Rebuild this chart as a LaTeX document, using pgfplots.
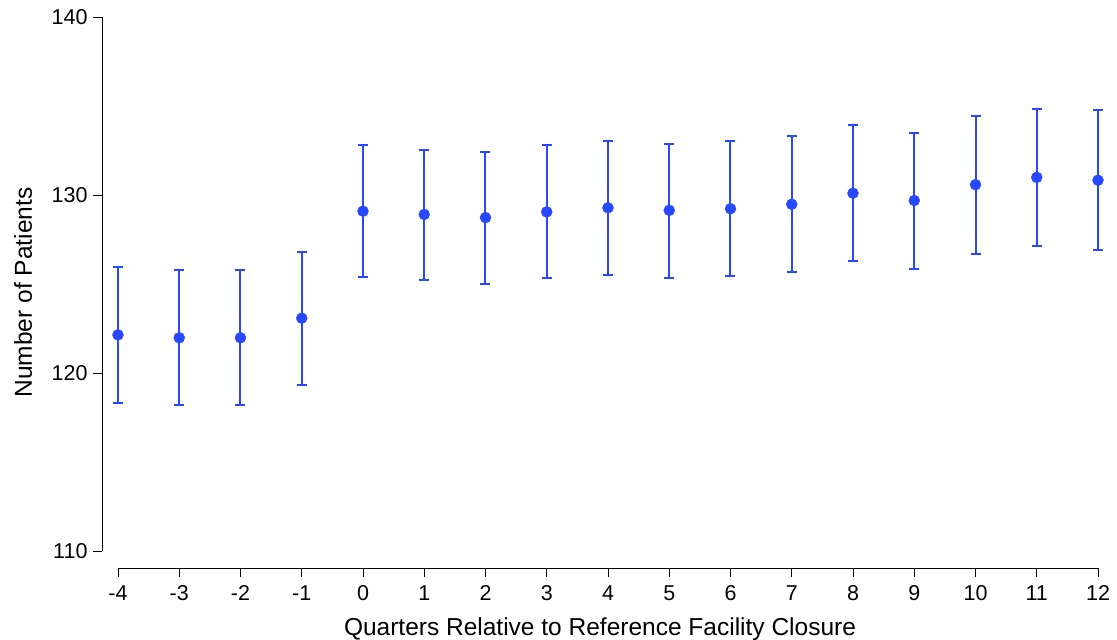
\documentclass[border=0pt]{standalone}
\usepackage{pgfplots}
\pgfplotsset{compat=1.18}
\usepackage{fontspec}
\setmainfont{Liberation Sans}
\definecolor{sblue}{RGB}{40,72,255}
\begin{document}
\begin{tikzpicture}[x=1pt,y=1pt]
\begin{axis}[
  name=ax,
  scale only axis,
  width=996pt, height=551pt,
  xmin=-4.261, xmax=12,
  ymin=109.045, ymax=140,
  axis line style={draw=none},
  xtick={-4,...,12},
  ytick={110,120,130,140},
  tick align=outside,
  major tick length=9pt,
  xtick pos=bottom, ytick pos=left,
  tick style={black, line width=0.9pt},
  /pgf/number format/assume math mode=true,
  ticklabel style={font=\fontsize{21.5}{25}\selectfont},
  yticklabel style={xshift=-2pt},
  xticklabel style={yshift=-5pt},
  xlabel={Quarters Relative to Reference Facility Closure},
  ylabel={Number of Patients},
  label style={font=\fontsize{24.5}{28}\selectfont},
  xlabel style={at={(axis description cs:0.5,0)}, anchor=center, yshift=-61pt},
  ylabel style={at={(axis description cs:0,0.5)}, anchor=center, yshift=79pt},
  clip=false,
]
\addplot[sblue, only marks, mark=*, mark size=5.5pt, mark options={fill=sblue, draw=sblue},
  error bars/.cd, y dir=both, y explicit,
  error bar style={sblue, line width=2pt},
  error mark options={sblue, mark size=5pt, line width=2pt, rotate=90}]
table[x=x, y=y, y error plus=ep, y error minus=em] {
x y ep em
-4 122.14 3.80 3.80
-3 121.98 3.80 3.80
-2 121.98 3.80 3.80
-1 123.08 3.70 3.73
0 129.09 3.71 3.68
1 128.91 3.64 3.66
2 128.73 3.70 3.71
3 129.05 3.75 3.73
4 129.28 3.75 3.76
5 129.14 3.75 3.80
6 129.23 3.80 3.80
7 129.48 3.82 3.79
8 130.10 3.82 3.82
9 129.69 3.82 3.82
10 130.58 3.86 3.89
11 130.99 3.86 3.86
12 130.83 3.96 3.91
};
\draw[black, line width=0.9pt] (axis cs:-4.261,110) -- (axis cs:-4.261,140);
\draw[black, line width=0.9pt] ([yshift=-17pt]axis cs:-4,110) -- ([yshift=-17pt]axis cs:12,110);
\end{axis}
\pgfresetboundingbox
\path[use as bounding box] ([xshift=-102pt,yshift=-72pt]ax.south west) rectangle ([xshift=19pt,yshift=17pt]ax.north east);
\end{tikzpicture}
\end{document}
